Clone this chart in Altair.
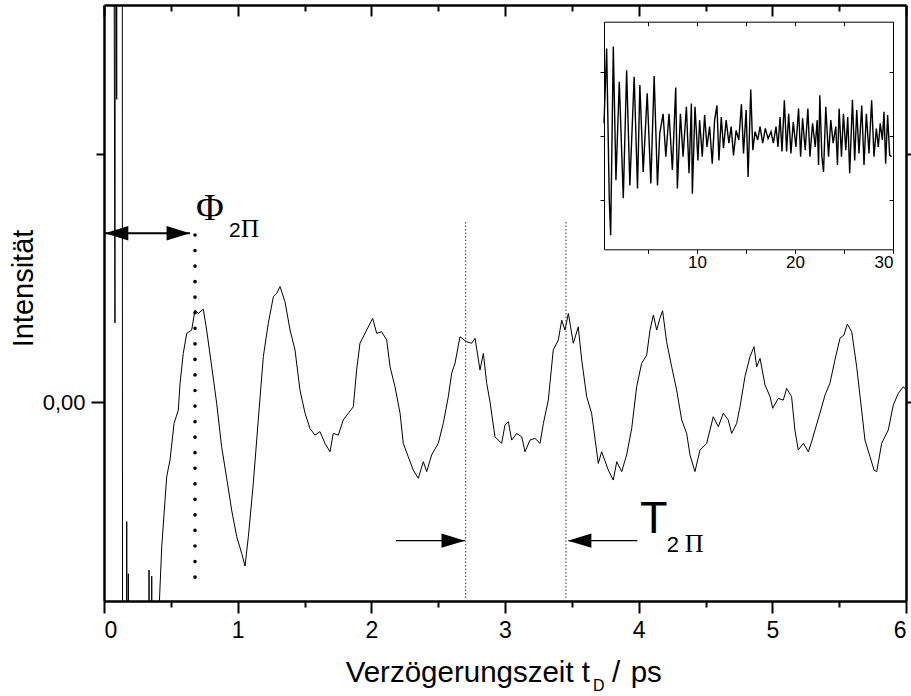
import altair as alt
import pandas as pd

# ---------------- data ----------------
main_t = [0.070, 0.082, 0.086, 0.095, 0.100, 0.136, 0.140, 0.168, 0.170, 0.173, 0.180, 0.182, 0.185,
          0.335, 0.337, 0.340, 0.355, 0.357, 0.360, 0.410,
          0.414, 0.432, 0.469, 0.494, 0.524, 0.556, 0.569, 0.593, 0.619, 0.656, 0.681, 0.705, 0.743,
          0.768, 0.806, 0.843, 0.880, 0.918, 0.955, 0.993, 1.030, 1.055, 1.080, 1.117, 1.154, 1.192,
          1.229, 1.267, 1.292, 1.317, 1.354, 1.392, 1.429, 1.466, 1.504, 1.541, 1.578, 1.616, 1.653,
          1.691, 1.715, 1.753, 1.790, 1.828, 1.865, 1.890, 1.915, 1.965, 2.010, 2.040, 2.077, 2.115,
          2.140, 2.177, 2.215, 2.239, 2.276, 2.314, 2.351, 2.389, 2.414, 2.451, 2.501, 2.538, 2.576,
          2.601, 2.626, 2.663, 2.713, 2.751, 2.776, 2.813, 2.838, 2.863, 2.888, 2.925, 2.975, 3.000,
          3.025, 3.050, 3.087, 3.125, 3.150, 3.187, 3.224, 3.262, 3.287, 3.324, 3.361, 3.399, 3.424,
          3.449, 3.474, 3.511, 3.548, 3.574, 3.611, 3.648, 3.698, 3.723, 3.773, 3.810, 3.836, 3.873,
          3.910, 3.948, 3.985, 4.022, 4.060, 4.085, 4.110, 4.135, 4.159, 4.179, 4.209, 4.247, 4.284,
          4.322, 4.359, 4.384, 4.421, 4.459, 4.509, 4.558, 4.596, 4.633, 4.670, 4.696, 4.733, 4.758,
          4.795, 4.833, 4.863, 4.883, 4.908, 4.945, 4.983, 5.003, 5.044, 5.082, 5.107, 5.144, 5.169,
          5.194, 5.232, 5.269, 5.294, 5.319, 5.356, 5.394, 5.431, 5.468, 5.506, 5.536, 5.561, 5.594,
          5.631, 5.668, 5.693, 5.731, 5.761, 5.781, 5.818, 5.867, 5.905, 5.942, 5.980, 6.000]
main_v = [3.0, 0.32, 3.0, 1.22, 3.0, 3.0, -3.0, -3.0, -0.48, -3.0, -3.0, -0.69, -3.0,
          -3.0, -0.675, -3.0, -3.0, -0.70, -3.0, -3.0,
          -0.809, -0.581, -0.300, -0.232, -0.085, -0.031, 0.077, 0.197, 0.278, 0.291, 0.372, 0.358, 0.375,
          0.291, 0.143, -0.004, -0.179, -0.306, -0.434, -0.541, -0.608, -0.659, -0.541, -0.326, -0.071, 0.184,
          0.318, 0.425, 0.439, 0.466, 0.405, 0.291, 0.211, 0.050, -0.044, -0.105, -0.132, -0.118, -0.165,
          -0.199, -0.125, -0.132, -0.071, -0.044, -0.018, 0.130, 0.238, 0.291, 0.338, 0.278, 0.284, 0.251,
          0.143, 0.063, -0.044, -0.165, -0.219, -0.273, -0.306, -0.239, -0.279, -0.212, -0.165, -0.085, 0.023,
          0.117, 0.157, 0.264, 0.244, 0.238, 0.258, 0.130, 0.197, 0.077, 0.002, -0.139, -0.165, -0.091,
          -0.078, -0.152, -0.125, -0.139, -0.199, -0.152, -0.145, -0.165, -0.085, 0.009, 0.211, 0.251, 0.331,
          0.291, 0.358, 0.238, 0.304, 0.170, 0.023, -0.044, -0.246, -0.199, -0.273, -0.313, -0.239, -0.279,
          -0.212, -0.105, 0.063, 0.157, 0.190, 0.291, 0.352, 0.291, 0.338, 0.369, 0.244, 0.143, 0.050,
          -0.071, -0.125, -0.212, -0.279, -0.192, -0.165, -0.058, -0.098, -0.044, -0.071, -0.125, -0.085, -0.018,
          0.103, 0.184, 0.224, 0.143, 0.177, 0.070, 0.023, -0.024, 0.016, 0.009, 0.056, 0.023, -0.112,
          -0.192, -0.165, -0.199, -0.159, -0.112, -0.044, 0.029, 0.077, 0.170, 0.258, 0.271, 0.315, 0.284,
          0.143, -0.031, -0.152, -0.219, -0.273, -0.279, -0.165, -0.112, -0.011, 0.036, 0.063, 0.050]

inset_t = [0.50, 0.77, 1.04, 1.18, 1.45, 1.72, 2.06, 2.47, 2.81, 3.14, 3.58, 3.92, 4.16, 4.50, 4.91,
           5.28, 5.62, 5.96, 6.19, 6.53, 6.81, 7.14, 7.48, 7.82, 7.99, 8.30, 8.57, 8.91, 9.18, 9.42,
           9.52, 9.79, 10.09, 10.26, 10.53, 10.77, 11.01, 11.28, 11.55, 11.79, 12.03, 12.23, 12.47,
           12.70, 12.97, 13.25, 13.48, 13.72, 13.99, 14.26, 14.53, 14.74, 15.01, 15.21, 15.48, 15.69,
           15.92, 16.19, 16.43, 16.70, 16.97, 17.25, 17.55, 17.79, 18.06, 18.26, 18.47, 18.67, 18.91,
           19.14, 19.35, 19.58, 19.82, 20.09, 20.36, 20.57, 20.77, 21.04, 21.31, 21.52, 21.79, 22.06,
           22.26, 22.40, 22.53, 22.74, 22.91, 23.14, 23.42, 23.65, 23.89, 24.16, 24.33, 24.50, 24.74,
           24.94, 25.18, 25.38, 25.58, 25.86, 26.09, 26.30, 26.53, 26.81, 27.04, 27.28, 27.55, 27.82,
           28.06, 28.30, 28.50, 28.70, 28.91, 29.08, 29.25, 29.45, 29.66, 29.86]
inset_v = [0.20, 1.37, -1.00, -1.55, 1.40, -0.69, 0.85, -0.97, 1.03, -0.77, 0.93, -0.82, 0.80, -0.56, 0.67,
           -0.74, 0.94, -0.77, 0.04, 0.35, -0.32, 0.35, -0.53, 0.76, -0.82, 0.35, -0.32, 0.46, -0.58, 0.51,
           -0.90, 0.46, -0.38, 0.25, -0.32, 0.33, -0.17, 0.15, -0.43, 0.25, 0.48, -0.38, 0.30,
           -0.19, 0.25, -0.11, 0.15, -0.30, 0.09, -0.06, 0.50, -0.27, 0.41, -0.64, 0.73, -0.22,
           0.07, -0.06, 0.15, -0.11, 0.12, -0.04, 0.07, -0.11, 0.15, -0.17, 0.30, -0.24, 0.56,
           -0.24, 0.35, -0.27, 0.22, -0.17, 0.43, -0.32, 0.28, -0.22, 0.43, -0.32, 0.20, -0.17,
           0.25, -0.45, 0.64, -0.32, -0.56, 0.46, -0.32, 0.25, -0.11, 0.15, -0.45, 0.43, -0.32,
           0.35, -0.22, 0.30, -0.58, 0.57, -0.38, 0.41, -0.27, 0.48, -0.45, 0.35, -0.27, 0.56,
           -0.32, 0.12, -0.17, 0.20, -0.06, 0.38, -0.43, 0.33, -0.30, -0.32]

# axis tick values
x_ticks = [0, 0.5, 1, 1.5, 2, 2.5, 3, 3.5, 4, 4.5, 5, 5.5, 6]
y_ticks = [0, 1]
inset_x_ticks = [5, 10, 15, 20, 25, 30]
inset_y_ticks = [-1, 0, 1]

# annotation values (data units)
phi_line_t = 0.681
phi_line_top = 0.674
phi_line_bottom = -0.764
phi_arrow_v = 0.681
phi_arrow_from = 0.0
phi_arrow_to = 0.643
t_lines_t = [2.706, 3.456]
t_lines_top = 0.726
t_arrow_v = -0.557
t_arrow_right = [2.184, 2.700]
t_arrow_left = [3.475, 3.990]

serif_t = [0.688, 1.025, 4.345]
serif_v = [0.734, 0.667, -0.603]
serif_txt = ["Φ", "Π", "Π"]
serif_size = [38, 25, 26]
sans_t = [0.935, 4.010, 4.210]
sans_v = [0.667, -0.526, -0.603]
sans_txt = ["2", "T", "2"]
sans_size = [21, 45, 22]

# x-axis title pieces (text, subscript, unit)
xtitle_t = [3.636, 3.658, 3.800, 3.940]
xtitle_v = [-1.126, -1.163, -1.126, -1.126]
xtitle_txt = ["Verzögerungszeit t", "D", "/", "ps"]
xtitle_size = [29.5, 16, 29.5, 29.5]

SANS = "Liberation Sans"
SERIF = "Liberation Serif"
W, H = 802, 596

xs = alt.Scale(domain=[0, 6], nice=False, zero=False)
ys = alt.Scale(domain=[-0.8, 1.6], nice=False, zero=False)
ixs = alt.Scale(domain=[0.5, 30], range=[500, 789], nice=False, zero=False)
iys = alt.Scale(domain=[-1.77, 1.79], range=[244.3, 16.7], nice=False, zero=False)

common_axis = dict(grid=False, domainColor="black", tickColor="black", labelColor="black",
                   titleColor="black")

# ---------------- main group ----------------
main_df = pd.DataFrame({"t": main_t, "v": main_v})
main_line = alt.Chart(main_df).mark_line(color="black", strokeWidth=1, clip=True).encode(
    x=alt.X("t:Q", scale=xs, axis=alt.Axis(
        orient="bottom", values=x_ticks, title=None,
        labelExpr="datum.value % 1 === 0 ? format(datum.value, 'd') : ''",
        labelFont=SANS, labelFontSize=23, labelPadding=6,
        tickSize={"condition": {"test": "datum.value % 1 === 0", "value": 12}, "value": 6},
        tickWidth=2, domainWidth=2.5, **common_axis)),
    y=alt.Y("v:Q", scale=ys, axis=alt.Axis(
        orient="left", values=y_ticks, title="Intensität",
        labelExpr="datum.value === 0 ? '0,00' : ''",
        labelFont=SANS, labelFontSize=22, labelPadding=6,
        tickSize={"condition": {"test": "datum.value === 0", "value": 13}, "value": 8},
        tickWidth=2, domainWidth=2.5,
        titleFont=SANS, titleFontSize=29, titleFontWeight="normal",
        titleAngle=270, titleX=-72, titleY=283, titleAlign="center", titleBaseline="alphabetic",
        **common_axis)),
)

tl_df = pd.DataFrame({"t": t_lines_t, "v": [t_lines_top] * 2, "v2": [-0.8] * 2})
t_lines = alt.Chart(tl_df).mark_rule(color="#333333", strokeWidth=1, strokeDash=[1.5, 2]).encode(
    x="t:Q", y="v:Q", y2="v2:Q")

arr_df = pd.DataFrame({"t": [phi_arrow_from, t_arrow_right[0], t_arrow_left[0]],
                       "t2": [phi_arrow_to, t_arrow_right[1], t_arrow_left[1]],
                       "v": [phi_arrow_v, t_arrow_v, t_arrow_v],
                       "w": [2.0, 1.4, 1.4]})
arr_lines = alt.Chart(arr_df).mark_rule(color="black").encode(
    x="t:Q", x2="t2:Q", y="v:Q",
    strokeWidth=alt.StrokeWidth("w:Q", scale=None, legend=None))

head_r_df = pd.DataFrame({"t": [phi_arrow_to, t_arrow_right[1]], "v": [phi_arrow_v, t_arrow_v]})
head_l_df = pd.DataFrame({"t": [0.007, t_arrow_left[0] - 0.004], "v": [phi_arrow_v, t_arrow_v]})
head_r = alt.Chart(head_r_df).mark_point(
    shape="M0,0L-1.95,-0.6L-1.95,0.6Z", filled=True, color="black", opacity=1, size=576,
    strokeWidth=0).encode(x="t:Q", y="v:Q")
head_l = alt.Chart(head_l_df).mark_point(
    shape="M0,0L1.95,-0.6L1.95,0.6Z", filled=True, color="black", opacity=1, size=576,
    strokeWidth=0).encode(x="t:Q", y="v:Q")

serif_df = pd.DataFrame({"t": serif_t, "v": serif_v, "txt": serif_txt, "size": serif_size})
sans_df = pd.DataFrame({"t": sans_t, "v": sans_v, "txt": sans_txt, "size": sans_size})
serif_labels = alt.Chart(serif_df).mark_text(
    align="left", baseline="alphabetic", color="black", font=SERIF).encode(
    x="t:Q", y="v:Q", text="txt:N", size=alt.Size("size:Q", scale=None, legend=None))
sans_labels = alt.Chart(sans_df).mark_text(
    align="left", baseline="alphabetic", color="black", font=SANS).encode(
    x="t:Q", y="v:Q", text="txt:N", size=alt.Size("size:Q", scale=None, legend=None))

xt_df = pd.DataFrame({"t": xtitle_t, "v": xtitle_v, "txt": xtitle_txt, "size": xtitle_size})
xt_right = alt.Chart(xt_df.iloc[[0]]).mark_text(
    align="right", baseline="alphabetic", color="black", font=SANS).encode(
    x="t:Q", y="v:Q", text="txt:N", size=alt.Size("size:Q", scale=None, legend=None))
xt_left = alt.Chart(xt_df.iloc[[1, 2, 3]]).mark_text(
    align="left", baseline="alphabetic", color="black", font=SANS).encode(
    x="t:Q", y="v:Q", text="txt:N", size=alt.Size("size:Q", scale=None, legend=None))

main_group = alt.layer(main_line, t_lines, arr_lines, head_r, head_l,
                       serif_labels, sans_labels, xt_right, xt_left)

# ---------------- main frame (top / right) ----------------
phi_df = pd.DataFrame({"t": [phi_line_t], "v": [phi_line_top], "v2": [phi_line_bottom]})
frame = alt.Chart(phi_df).mark_rule(color="black", strokeWidth=3.6, strokeDash=[0.1, 15.45],
                                    strokeCap="round").encode(
    x=alt.X("t:Q", scale=xs, axis=alt.Axis(
        orient="bottom", offset=-H, values=x_ticks, labels=False, title=None,
        tickSize={"condition": {"test": "datum.value % 1 === 0", "value": 11}, "value": 6},
        tickWidth=2, domainWidth=2.5, **common_axis)),
    y=alt.Y("v:Q", scale=ys, axis=alt.Axis(
        orient="right", values=y_ticks, labels=False, title=None, tickSize=5,
        tickWidth=2, domainWidth=2.5, **common_axis)),
    y2="v2:Q")

# ---------------- inset ----------------
inset_df = pd.DataFrame({"t": inset_t, "v": inset_v})
inset_line = alt.Chart(inset_df).mark_line(color="black", strokeWidth=1.4).encode(
    x=alt.X("t:Q", scale=ixs, axis=alt.Axis(
        orient="bottom", offset=-(H - 244.3), values=inset_x_ticks, title=None,
        labelExpr="datum.value % 10 === 0 ? format(datum.value, 'd') : ''",
        labelFont=SANS, labelFontSize=17, labelPadding=1, tickSize=4, tickWidth=1,
        domainWidth=1, **common_axis)),
    y=alt.Y("v:Q", scale=iys, axis=alt.Axis(
        orient="left", offset=-500, values=inset_y_ticks, labels=False, title=None,
        tickSize=4, tickWidth=1, domainWidth=1, **common_axis)),
)
inset_frame = alt.Chart(inset_df).mark_line(opacity=0).encode(
    x=alt.X("t:Q", scale=ixs, axis=alt.Axis(
        orient="bottom", offset=-(H - 16.7), values=inset_x_ticks, labels=False, title=None,
        tickSize=4, tickWidth=1, domainWidth=1, **common_axis)),
    y=alt.Y("v:Q", scale=iys, axis=alt.Axis(
        orient="left", offset=-789, values=inset_y_ticks, labels=False, title=None,
        tickSize=4, tickWidth=1, domainWidth=1, **common_axis)),
)

chart = alt.layer(main_group, frame, inset_line, inset_frame).resolve_scale(
    x="independent", y="independent"
).properties(
    width=W, height=H,
    padding={"left": 104, "top": 5, "right": 5, "bottom": 95},
    autosize=alt.AutoSizeParams(type="none"),
    background="white",
).configure_view(stroke=None)

chart.save("out.html", embed_options={"renderer": "svg", "actions": False})
